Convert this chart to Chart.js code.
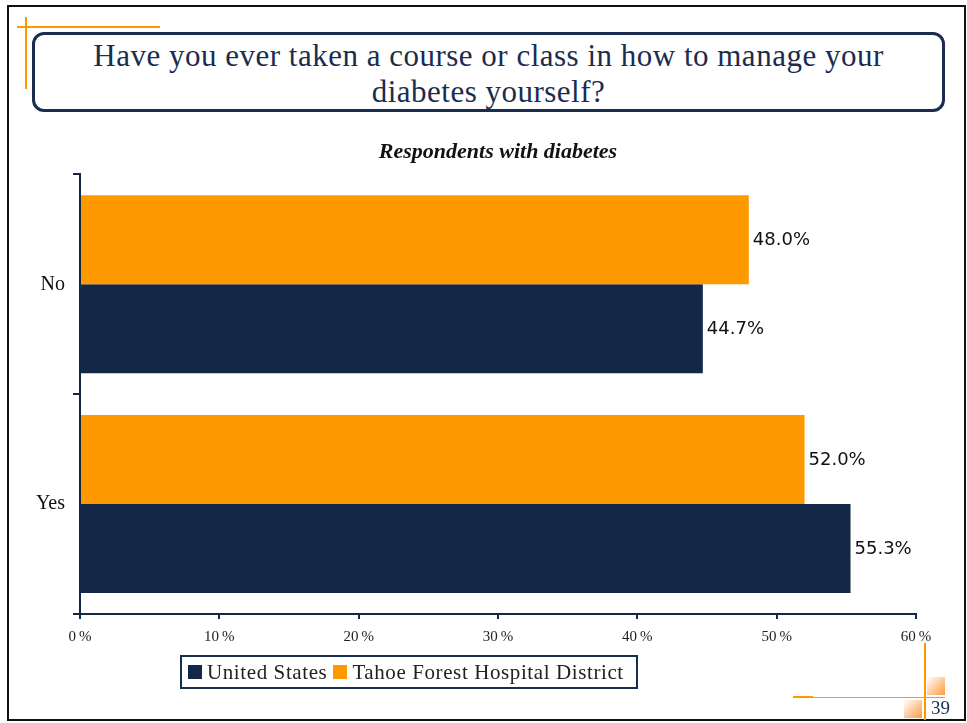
<!DOCTYPE html>
<html>
<head>
<meta charset="utf-8">
<script src="https://cdn.jsdelivr.net/npm/chart.js@4.4.0/dist/chart.umd.min.js"></script>
<style>
  html, body { margin: 0; padding: 0; background: #fff; }
  body { width: 967px; height: 723px; position: relative; overflow: hidden; font-family: "Liberation Serif", serif; }
  .frame { position: absolute; left: 7px; top: 5px; width: 955px; height: 712px; border: 2px solid #111; }
  .deco { position: absolute; background: #ff9900; }
  .titlebox {
    position: absolute; left: 32px; top: 32px; width: 907px; height: 71px;
    border: 3px solid #1a2d4f; border-radius: 12px; background: #fff;
    color: #1a2d4f; font-size: 31px; line-height: 36px; text-align: center;
    letter-spacing: 0.5px; padding-top: 3px;
  }
  .chartwrap { position: absolute; left: 0; top: 130px; width: 967px; height: 527px; }
  .legend {
    position: absolute; left: 180px; top: 655px; height: 30px;
    border: 2px solid #1a2d4f; padding: 0 6px; display: flex; align-items: center;
    font-size: 21px; letter-spacing: 0.6px; color: #222; white-space: nowrap;
  }
  .legend .sw { display: inline-block; width: 14px; height: 14px; margin-right: 5px; }
  .legend .item { display: flex; align-items: center; margin-right: 6px; }
  .grad { position: absolute; width: 18px; height: 18px; background: linear-gradient(135deg, #fff 0%, #ff9a40 100%); }
  .pageno { position: absolute; left: 931px; top: 697px; font-size: 19px; color: #1a2d4f; }
</style>
</head>
<body>
<div class="frame"></div>
<div class="deco" style="left:17px; top:26px; width:143px; height:2px;"></div>
<div class="deco" style="left:25px; top:17px; width:2px; height:72px;"></div>
<div class="titlebox">Have you ever taken a course or class in how to manage your<br>diabetes yourself?</div>
<div class="chartwrap"><canvas id="chart"></canvas></div>
<div class="legend" id="legend"></div>
<div class="deco" style="left:924px; top:643px; width:2px; height:77px;"></div>
<div class="deco" style="left:793px; top:697px; width:152px; height:1px;"></div>
<div class="deco" style="left:793px; top:696px; width:20px; height:2px;"></div>
<div class="grad" style="left:927px; top:677px;"></div>
<div class="grad" style="left:904px; top:700px;"></div>
<div class="pageno">39</div>
<script>
// categories and series, top to bottom as drawn
const categories = ['No', 'Yes'];
const tahoeValues = [48.0, 52.0];
const usValues = [44.7, 55.3];
const xTicks = [0, 10, 20, 30, 40, 50, 60];

const NAVY = '#132846';
const ORANGE = '#ff9900';

// value labels at the end of each bar
const barLabels = {
    id: 'barLabels',
    afterDatasetsDraw(chart) {
        const ctx = chart.ctx;
        ctx.save();
        ctx.font = '18px "DejaVu Sans", sans-serif';
        ctx.fillStyle = '#111';
        ctx.textAlign = 'left';
        ctx.textBaseline = 'middle';
        chart.data.datasets.forEach((ds, i) => {
            chart.getDatasetMeta(i).data.forEach((bar, j) => {
                ctx.fillText(ds.data[j].toFixed(1) + '%', bar.x + 4, bar.y + 1);
            });
        });
        ctx.restore();
    }
};

const datasets = [
    { label: 'Tahoe Forest Hospital District', data: tahoeValues, backgroundColor: ORANGE },
    { label: 'United States', data: usValues, backgroundColor: NAVY }
];

new Chart(document.getElementById('chart'), {
    type: 'bar',
    data: { labels: categories, datasets: datasets },
    options: {
        indexAxis: 'y',
        responsive: true, maintainAspectRatio: false,
        animation: false,
        layout: { padding: { left: 10, right: 51, top: 0, bottom: 2 } },
        datasets: { bar: { barPercentage: 1, categoryPercentage: 0.81 } },
        plugins: {
            legend: { display: false },
            tooltip: { enabled: false },
            title: {
                display: true, fullSize: false,
                text: 'Respondents with diabetes',
                color: '#111',
                font: { family: '"Liberation Serif", serif', size: 22, style: 'italic', weight: 'bold' },
                padding: { top: 9, bottom: 9 }
            }
        },
        scales: {
            x: {
                min: 0, max: 60,
                afterBuildTicks: s => { s.ticks = xTicks.map(v => ({ value: v })); },
                border: { color: NAVY, width: 2 },
                grid: { drawOnChartArea: false, tickLength: 5, color: NAVY, lineWidth: 2 },
                ticks: {
                    padding: 9, color: '#222',
                    font: { family: '"Liberation Serif", serif', size: 15 },
                    callback: v => v + '\u2009%'
                }
            },
            y: {
                afterFit: s => { s.width = 70; },
                border: { color: NAVY, width: 2 },
                grid: { drawOnChartArea: false, offset: true, tickLength: 7, color: NAVY, lineWidth: 2 },
                ticks: {
                    padding: 8, color: '#111',
                    font: { family: '"Liberation Serif", serif', size: 20 }
                }
            }
        }
    },
    plugins: [barLabels]
});

// legend: United States first, as in the original
const legendEl = document.getElementById('legend');
legendEl.innerHTML = datasets.slice().reverse().map(d =>
    `<span class="item"><span class="sw" style="background:${d.backgroundColor}"></span>${d.label}</span>`
).join('');
</script>
</body>
</html>
